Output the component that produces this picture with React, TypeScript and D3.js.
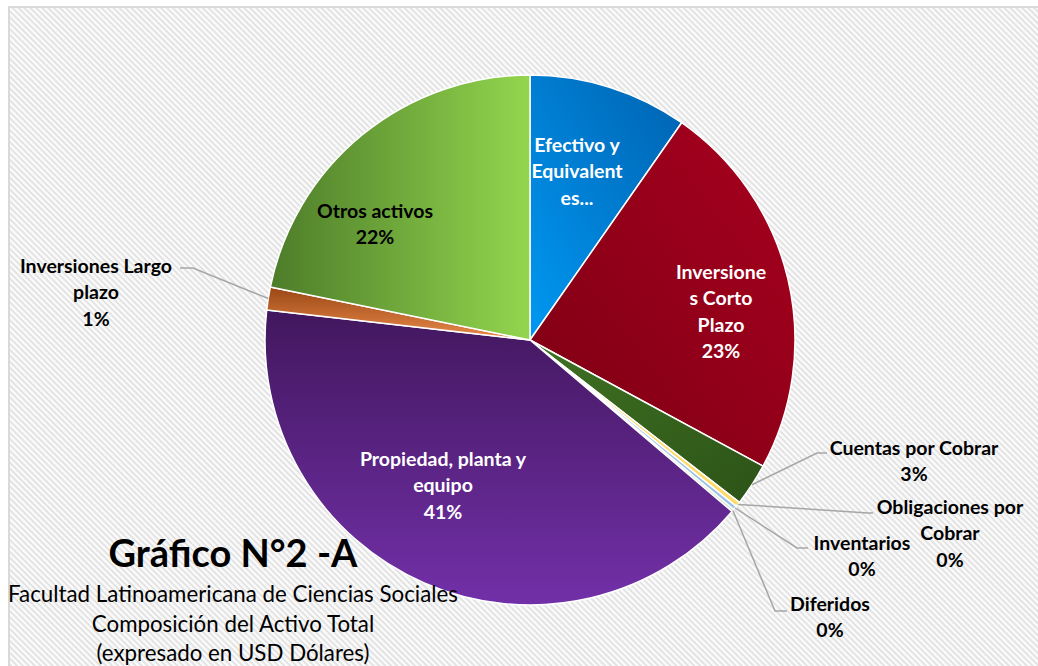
import React from "react";
import * as d3 from "d3";

const categories = [
  "Efectivo y Equivalentes",
  "Inversiones Corto Plazo",
  "Cuentas por Cobrar",
  "Obligaciones por Cobrar",
  "Inventarios",
  "Diferidos",
  "Propiedad, planta y equipo",
  "Inversiones Largo plazo",
  "Otros activos",
];
const values = [9.7, 23.2, 2.6, 0.3, 0.25, 0.15, 40.6, 1.4, 21.8];
// label text lines (Excel wraps / truncates); percent appended where shown
const labelLines = [
  ["Efectivo y", "Equivalent", "es..."],
  ["Inversione", "s Corto", "Plazo"],
  ["Cuentas por Cobrar"],
  ["Obligaciones por", "Cobrar"],
  ["Inventarios"],
  ["Diferidos"],
  ["Propiedad, planta y", "equipo"],
  ["Inversiones Largo", "plazo"],
  ["Otros activos"],
];
const showPercent = [false, true, true, true, true, true, true, true, true];
const titleText = "Gráfico N°2 -A";
const subtitleLines = [
  "Facultad Latinoamericana de Ciencias Sociales",
  "Composición del Activo Total",
  "(expresado en USD Dólares)",
];

// styling / layout (not data)
const gradients: [string, string, number, number, number, number][] = [
  ["#0098f2", "#0062b0", 0, 1, 1, 0],
  ["#7c0012", "#a8001f", 0, 1, 1, 0],
  ["#3f7222", "#2c5317", 0, 0, 1, 1],
  ["#ffd965", "#ffd965", 0, 0, 1, 1],
  ["#9dc3e6", "#9dc3e6", 0, 0, 1, 1],
  ["#c5e0b4", "#c5e0b4", 0, 0, 1, 1],
  ["#42175e", "#7230a8", 0, 0, 0, 1],
  ["#9a4614", "#ea8c4c", 0, 0, 0, 1],
  ["#4d7c29", "#93d64e", 0, 0, 1, 0],
];
const labelLayout = [
  { x: 577, y: 152, fill: "#ffffff" },
  { x: 721, y: 279, fill: "#ffffff" },
  { x: 914, y: 455, fill: "#000000", elbow: [817, 453], end: [827, 453] },
  { x: 950, y: 514, fill: "#000000", elbow: [868, 513], end: [873, 513] },
  { x: 862, y: 550, fill: "#000000", elbow: [797, 548], end: [808, 548] },
  { x: 830, y: 611, fill: "#000000", elbow: [775, 611], end: [787, 611] },
  { x: 443, y: 466, fill: "#ffffff" },
  { x: 96, y: 273, fill: "#000000", elbow: [193, 268], end: [180, 268] },
  { x: 375, y: 218, fill: "#000000" },
];

const W = 1038;
const H = 666;
const cx = 530;
const cy = 340;
const R = 265;
const FONT = "Lato, 'Open Sans', sans-serif";

export default function App() {
  const data = categories.map((c, i) => ({ c, v: values[i], i }));
  const total = d3.sum(values);
  const pie = d3
    .pie<any>()
    .value((d) => d.v)
    .sort(null)
    .startAngle(0)
    .endAngle(2 * Math.PI);
  const arcs = pie(data);
  const arc = d3.arc<any>().innerRadius(0).outerRadius(R);
  const pct = d3.format(".0%");

  return (
    <svg
      width={W}
      height={H}
      style={{ position: "absolute", left: 0, top: 0, display: "block" }}
    >
      <defs>
        <pattern
          id="bgp"
          width="4.2"
          height="4.2"
          patternUnits="userSpaceOnUse"
          patternTransform="rotate(45)"
        >
          <rect width="4.2" height="4.2" fill="#fbfbfb" />
          <rect width="4.2" height="1.9" fill="#e2e2e2" />
        </pattern>
        {gradients.map((g, i) => (
          <linearGradient
            key={i}
            id={`g${i}`}
            x1={g[2]}
            y1={g[3]}
            x2={g[4]}
            y2={g[5]}
          >
            <stop offset="0" stopColor={g[0]} />
            <stop offset="1" stopColor={g[1]} />
          </linearGradient>
        ))}
      </defs>
      <rect x={0} y={0} width={W} height={H} fill="#ffffff" />
      <rect x={10} y={8} width={W + 20} height={H + 20} fill="url(#bgp)" />
      <rect
        x={9}
        y={7}
        width={W + 20}
        height={H + 20}
        fill="none"
        stroke="#d9d9d9"
        strokeWidth={2}
      />
      <g transform={`translate(${cx},${cy})`}>
        {arcs.map((a, i) => (
          <path
            key={i}
            d={arc(a) as string}
            fill={`url(#g${i})`}
            stroke="#ffffff"
            strokeWidth={1.5}
            strokeLinejoin="round"
          />
        ))}
      </g>
      {arcs.map((a, i) => {
        const L: any = labelLayout[i];
        if (!L.elbow) return null;
        const mid = (a.startAngle + a.endAngle) / 2;
        const sx = cx + R * Math.sin(mid);
        const sy = cy - R * Math.cos(mid);
        return (
          <polyline
            key={"l" + i}
            points={`${sx},${sy} ${L.elbow[0]},${L.elbow[1]} ${L.end[0]},${L.end[1]}`}
            fill="none"
            stroke="#a6a6a6"
            strokeWidth={1.5}
          />
        );
      })}
      {arcs.map((a, i) => {
        const L: any = labelLayout[i];
        const lines = [...labelLines[i]];
        if (showPercent[i]) lines.push(pct(values[i] / total));
        return (
          <text
            key={"t" + i}
            x={L.x}
            y={L.y}
            textAnchor="middle"
            fontFamily={FONT}
            fontWeight={700}
            fontSize={19.5}
            fill={L.fill}
          >
            {lines.map((s, j) => (
              <tspan key={j} x={L.x} y={L.y + j * 26.3}>
                {s}
              </tspan>
            ))}
          </text>
        );
      })}
      <text
        x={233}
        y={567}
        textAnchor="middle"
        fontFamily={FONT}
        fontWeight={700}
        fontSize={38}
        fill="#000"
      >
        {titleText}
      </text>
      {subtitleLines.map((s, j) => (
        <text
          key={"s" + j}
          x={233}
          y={602 + j * 29.5}
          textAnchor="middle"
          fontFamily={FONT}
          fontSize={22.3}
          fill="#000"
        >
          {s}
        </text>
      ))}
    </svg>
  );
}
